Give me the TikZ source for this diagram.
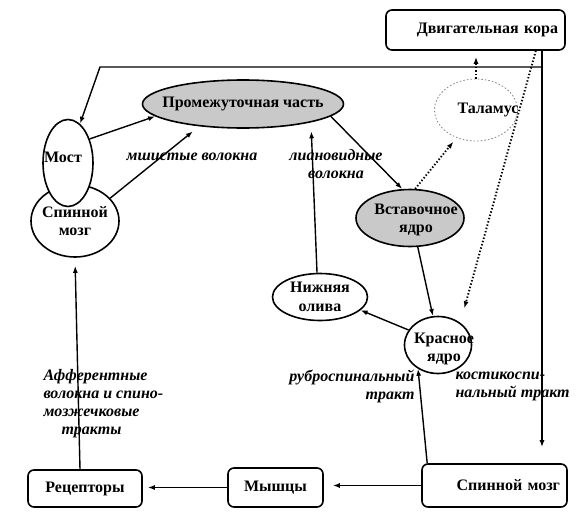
\documentclass[tikz,border=0pt]{standalone}
\usepackage{fontspec}
\setmainfont{Liberation Serif}
\usetikzlibrary{arrows.meta,shapes.geometric,calc}
\definecolor{nucleusgray}{HTML}{C9C9C9}
\definecolor{thalgray}{HTML}{8A8A8A}

\begin{document}
\begin{tikzpicture}[
    x=1pt,y=-1pt,>=Latex,
    font=\fontsize{16}{18.5}\selectfont\bfseries,
    stage/.style={draw,rounded corners=6pt,line width=1.6pt,minimum height=40pt,inner xsep=7pt},
    nucleus/.style={ellipse,draw,line width=1.6pt,fill=white,inner sep=0pt},
    graynuc/.style={nucleus,fill=nucleusgray},
    fibre/.style={font=\fontsize{16}{18}\selectfont\bfseries\itshape},
    flow/.style={-{Latex[length=7pt,width=5pt]},line width=1.4pt},
    dotflow/.style={flow,dotted,line width=1.9pt}
  ]
  \useasboundingbox (0,0) rectangle (582,520);

  % boxes
  \node[stage,minimum width=179pt,text width=165pt,align=right] (cortex) at (475.5,30) {Двигательная кора};
  \node[stage,minimum width=145pt,text width=131pt,align=right,minimum height=43pt] (spinebox) at (494.5,485.5) {Спинной мозг};
  \node[stage,minimum width=95pt,minimum height=39pt] (muscle) at (275.5,487.5) {Мышцы};
  \node[stage,minimum width=114pt,minimum height=37pt] (recept) at (85,488.5) {Рецепторы};

  % nuclei
  \node[graynuc,minimum width=201pt,minimum height=48pt,label={center:Промежуточная часть}] (inter) at (243,104) {};
  \node[nucleus,minimum width=88pt,minimum height=72pt,label={[align=center]center:Спинной\\мозг}] (spine) at (75,221) {};
  \node[nucleus,minimum width=50pt,minimum height=87pt,label={[xshift=-5pt,yshift=6pt]center:Мост}] (pons) at (68,163) {};
  \node[nucleus,draw=thalgray,dotted,line width=.8pt,minimum width=83pt,minimum height=62pt,
    label={[xshift=12pt]center:Таламус}] (thal) at (476,110) {};
  \node[graynuc,minimum width=108pt,minimum height=57pt,label={[align=center,xshift=6pt,yshift=-2pt]center:Вставочное\\ядро}] (insert) at (410,218) {};
  \node[nucleus,minimum width=95pt,minimum height=47pt,label={[align=center]center:Нижняя\\олива}] (olive) at (320,297) {};
  \node[nucleus,minimum width=67pt,minimum height=57pt,label={[align=center,xshift=6pt,yshift=-4pt]center:Красное\\ядро}] (red) at (438,345) {};

  % fibre labels
  \node[fibre] (mossy) at (192,157) {мшистые волокна};
  \node[fibre,align=center] (climbing) at (336,164) {лиановидные\\волокна};
  \node[fibre,align=right,anchor=east] (rubrotext) at (418,386) {руброспинальный\\тракт};
  \node[fibre,align=left,anchor=west] (corttext) at (452,386) {костикоспи-\\нальный тракт};
  \node[fibre,align=left,anchor=west] (afftext) at (40,404) {Афферентные\\волокна и спино-\\мозжечковые\\\hspace*{18pt}тракты};

  % connectors
  \coordinate (turn) at (542,67);
  \coordinate (bend) at (100,67);
  \coordinate (cortexdrop) at ($(cortex.south east)+(-30,0)$);
  \coordinate (rubro) at ($(spinebox.north west)+(6,0)$);

  \draw[flow,shorten >=16pt] (cortex.south -| turn) -- (spinebox.north -| turn);
  \draw[flow] (turn) -- (bend) -- (pons.73);
  \draw[flow] (pons.48) -- (inter.188);
  \draw[flow,shorten >=8pt] (spine.33) -- (inter.207);
  \draw[flow] (inter.-8) -- (insert.105);
  \draw[flow] (olive.97) -- ([yshift=-9pt]inter.-15);
  \draw[flow] (insert.-75) -- (red.100);
  \draw[flow] (red.153) -- (olive.-18);
  \draw[flow] (rubro) -- (red.-130);
  \draw[flow,shorten >=9pt] (spinebox.west) -- (spinebox.west -| muscle.east);
  \draw[flow,shorten >=5pt] (muscle.west) -- (muscle.west -| recept.east);
  \draw[flow,shorten >=8pt] ([xshift=-5pt]recept.north) -- (spine.south);

  \draw[dotflow,shorten >=6pt] (thal.north) -- (thal.north |- cortex.south);
  \draw[dotflow,shorten >=5pt] (insert.80) -- (thal.235);
  \draw[dotflow,shorten >=15pt] (cortexdrop) -- (red.45);
\end{tikzpicture}
\end{document}
